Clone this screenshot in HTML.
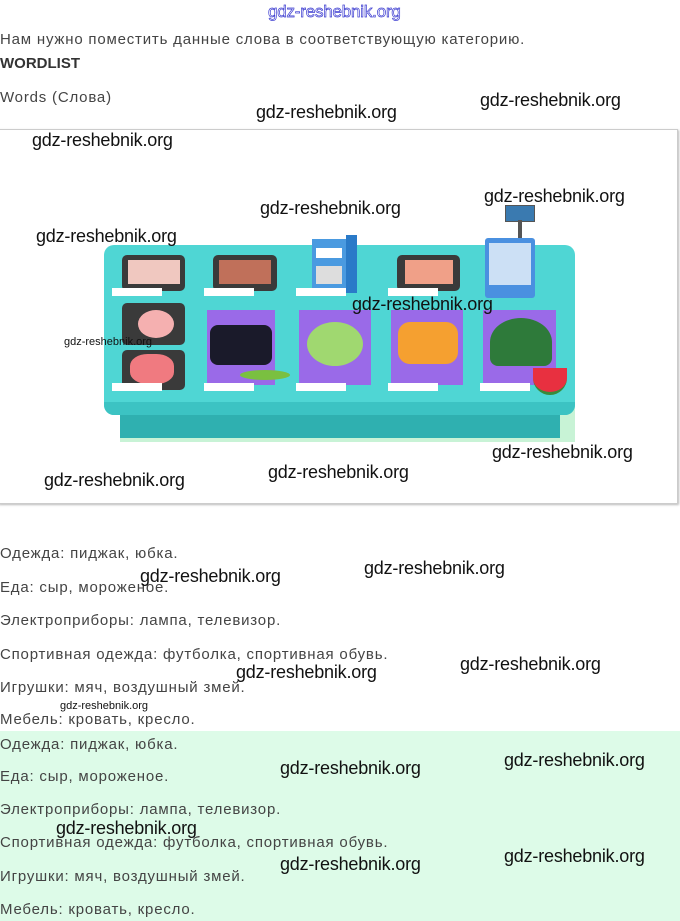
<!DOCTYPE html>
<html><head><meta charset="utf-8">
<style>
body{margin:0;width:680px;height:921px;background:#fff;position:relative;overflow:hidden;font-family:"Liberation Sans",sans-serif;}
.t{position:absolute;left:0;font-size:15px;color:#444;white-space:nowrap;line-height:18px;letter-spacing:0.8px}
.w{position:absolute;font-size:18px;color:#111;white-space:nowrap;line-height:20px;letter-spacing:-0.2px}
.a{position:absolute}
</style></head><body>
<div class="a" style="left:0;top:731px;width:680px;height:190px;background:#ddfbe8"></div>
<div class="a" style="left:-2px;top:129px;width:678px;height:373px;border:1px solid #ccc;box-shadow:1px 1px 2px #bbb"></div>
<div class="w" style="left:268px;top:2px;color:#fff;-webkit-text-stroke:0.7px #3c3cd0;font-size:17px">gdz-reshebnik.org</div>
<div class="t" style="top:31px">Нам нужно поместить данные слова в соответствующую категорию.</div>
<div class="t" style="top:55px;font-weight:bold;color:#333;letter-spacing:0">WORDLIST</div>
<div class="t" style="top:89px">Words (Слова)</div>

<!-- illustration -->
<div class="a" style="left:120px;top:400px;width:455px;height:42px;background:#c8f3d6"></div>
<div class="a" style="left:120px;top:405px;width:440px;height:33px;background:#2fb0b0"></div>
<div class="a" style="left:104px;top:245px;width:471px;height:170px;background:#4fd6d4;border-radius:10px"></div>
<div class="a" style="left:104px;top:402px;width:471px;height:13px;background:#3cc3c3;border-radius:0 0 10px 10px"></div>
<div class="a" style="left:122px;top:255px;width:63px;height:36px;background:#3a3a3a;border-radius:5px"></div>
<div class="a" style="left:128px;top:260px;width:52px;height:24px;background:#f0c8c0"></div>
<div class="a" style="left:213px;top:255px;width:64px;height:36px;background:#3a3a3a;border-radius:5px"></div>
<div class="a" style="left:219px;top:260px;width:52px;height:24px;background:#c0705a"></div>
<div class="a" style="left:397px;top:255px;width:63px;height:36px;background:#3a3a3a;border-radius:5px"></div>
<div class="a" style="left:405px;top:260px;width:48px;height:24px;background:#f0a088"></div>
<div class="a" style="left:312px;top:235px;width:45px;height:58px;background:#2a7ac8"></div>
<div class="a" style="left:312px;top:235px;width:34px;height:58px;background:#4a9ae0;border-top:4px solid #fff;box-sizing:border-box"></div>
<div class="a" style="left:316px;top:248px;width:26px;height:10px;background:#fff"></div>
<div class="a" style="left:316px;top:266px;width:26px;height:18px;background:#ddd"></div>
<div class="a" style="left:505px;top:205px;width:28px;height:15px;background:#3a7ab0;border:1px solid #555"></div>
<div class="a" style="left:518px;top:220px;width:4px;height:20px;background:#555"></div>
<div class="a" style="left:485px;top:238px;width:50px;height:60px;background:#4a90e0;border-radius:3px"></div>
<div class="a" style="left:489px;top:243px;width:42px;height:42px;background:#cce0f5"></div>
<div class="a" style="left:122px;top:303px;width:63px;height:42px;background:#3a3a3a;border-radius:5px"></div>
<div class="a" style="left:138px;top:310px;width:36px;height:28px;background:#f5b0b0;border-radius:50%"></div>
<div class="a" style="left:122px;top:350px;width:63px;height:40px;background:#3a3a3a;border-radius:5px"></div>
<div class="a" style="left:130px;top:354px;width:44px;height:30px;background:#f07a80;border-radius:40%"></div>
<div class="a" style="left:207px;top:310px;width:68px;height:75px;background:#9a6ae8"></div>
<div class="a" style="left:210px;top:325px;width:62px;height:40px;background:#1a1a2a;border-radius:8px"></div>
<div class="a" style="left:299px;top:310px;width:72px;height:75px;background:#9a6ae8"></div>
<div class="a" style="left:307px;top:322px;width:56px;height:44px;background:#a0d870;border-radius:50%"></div>
<div class="a" style="left:391px;top:310px;width:72px;height:75px;background:#9a6ae8"></div>
<div class="a" style="left:398px;top:322px;width:60px;height:42px;background:#f5a030;border-radius:12px"></div>
<div class="a" style="left:483px;top:310px;width:73px;height:75px;background:#9a6ae8"></div>
<div class="a" style="left:490px;top:318px;width:62px;height:48px;background:#2e7a3a;border-radius:50% 50% 8px 8px"></div>
<div class="a" style="left:240px;top:370px;width:50px;height:10px;background:#7ac040;border-radius:50%"></div>
<div class="a" style="left:533px;top:368px;width:34px;height:24px;background:#e83040;border-radius:0 0 20px 20px;border-bottom:3px solid #3a8a3a"></div>
<div class="a" style="left:112px;top:288px;width:50px;height:8px;background:#fff"></div>
<div class="a" style="left:204px;top:288px;width:50px;height:8px;background:#fff"></div>
<div class="a" style="left:296px;top:288px;width:50px;height:8px;background:#fff"></div>
<div class="a" style="left:388px;top:288px;width:50px;height:8px;background:#fff"></div>
<div class="a" style="left:112px;top:383px;width:50px;height:8px;background:#fff"></div>
<div class="a" style="left:204px;top:383px;width:50px;height:8px;background:#fff"></div>
<div class="a" style="left:296px;top:383px;width:50px;height:8px;background:#fff"></div>
<div class="a" style="left:388px;top:383px;width:50px;height:8px;background:#fff"></div>
<div class="a" style="left:480px;top:383px;width:50px;height:8px;background:#fff"></div>

<div class="t" style="top:545px">Одежда: пиджак, юбка.</div>
<div class="t" style="top:579px">Еда: сыр, мороженое.</div>
<div class="t" style="top:612px">Электроприборы: лампа, телевизор.</div>
<div class="t" style="top:646px">Спортивная одежда: футболка, спортивная обувь.</div>
<div class="t" style="top:679px">Игрушки: мяч, воздушный змей.</div>
<div class="t" style="top:711px">Мебель: кровать, кресло.</div>
<div class="t" style="top:736px">Одежда: пиджак, юбка.</div>
<div class="t" style="top:768px">Еда: сыр, мороженое.</div>
<div class="t" style="top:801px">Электроприборы: лампа, телевизор.</div>
<div class="t" style="top:834px">Спортивная одежда: футболка, спортивная обувь.</div>
<div class="t" style="top:868px">Игрушки: мяч, воздушный змей.</div>
<div class="t" style="top:901px">Мебель: кровать, кресло.</div>

<div class="w" style="left:256px;top:102px">gdz-reshebnik.org</div>
<div class="w" style="left:480px;top:90px">gdz-reshebnik.org</div>
<div class="w" style="left:32px;top:130px">gdz-reshebnik.org</div>
<div class="w" style="left:260px;top:198px">gdz-reshebnik.org</div>
<div class="w" style="left:484px;top:186px">gdz-reshebnik.org</div>
<div class="w" style="left:36px;top:226px">gdz-reshebnik.org</div>
<div class="w" style="left:352px;top:294px">gdz-reshebnik.org</div>
<div class="w" style="left:64px;top:335px;font-size:11px;line-height:14px;letter-spacing:0">gdz-reshebnik.org</div>
<div class="w" style="left:44px;top:470px">gdz-reshebnik.org</div>
<div class="w" style="left:268px;top:462px">gdz-reshebnik.org</div>
<div class="w" style="left:492px;top:442px">gdz-reshebnik.org</div>
<div class="w" style="left:140px;top:566px">gdz-reshebnik.org</div>
<div class="w" style="left:364px;top:558px">gdz-reshebnik.org</div>
<div class="w" style="left:236px;top:662px">gdz-reshebnik.org</div>
<div class="w" style="left:460px;top:654px">gdz-reshebnik.org</div>
<div class="w" style="left:60px;top:699px;font-size:11px;line-height:14px;letter-spacing:0">gdz-reshebnik.org</div>
<div class="w" style="left:280px;top:758px">gdz-reshebnik.org</div>
<div class="w" style="left:504px;top:750px">gdz-reshebnik.org</div>
<div class="w" style="left:56px;top:818px">gdz-reshebnik.org</div>
<div class="w" style="left:280px;top:854px">gdz-reshebnik.org</div>
<div class="w" style="left:504px;top:846px">gdz-reshebnik.org</div>
</body></html>
